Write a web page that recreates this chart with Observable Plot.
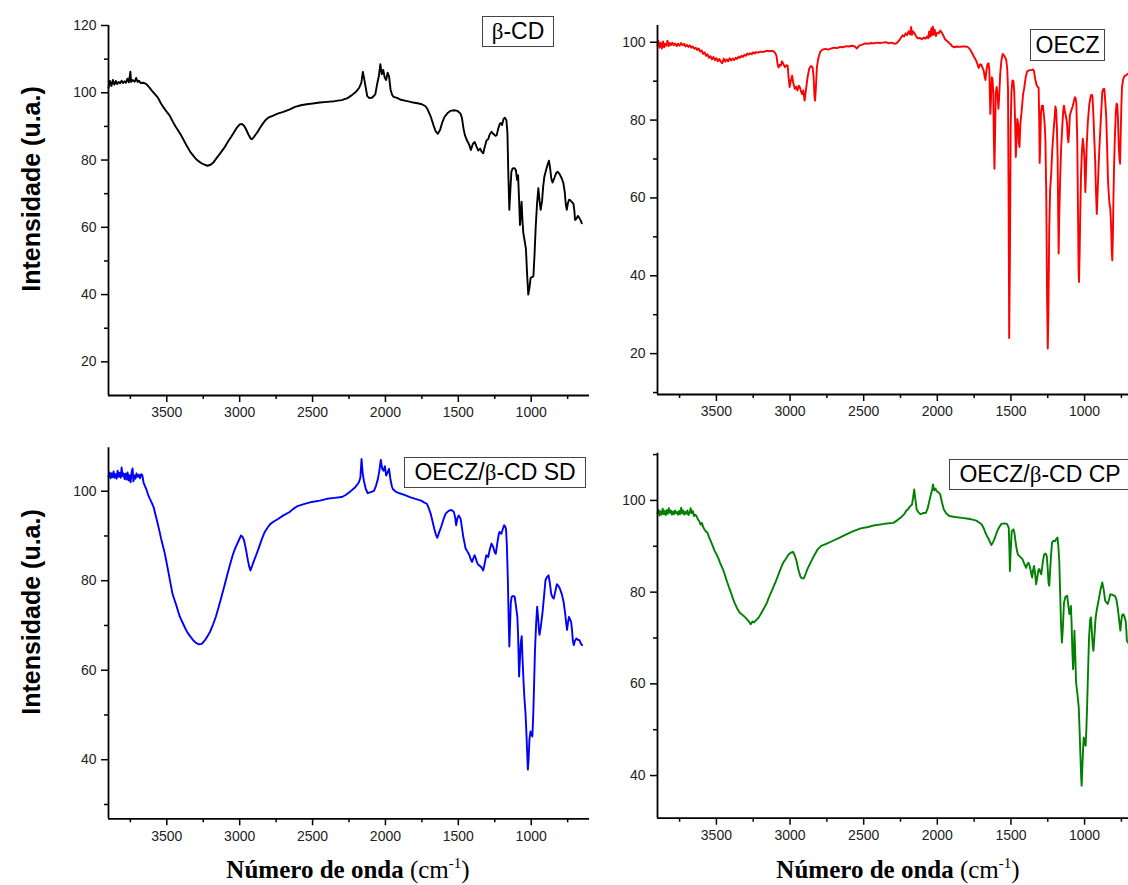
<!DOCTYPE html>
<html>
<head>
<meta charset="utf-8">
<script src="https://cdn.jsdelivr.net/npm/d3@7"></script>
<script src="https://cdn.jsdelivr.net/npm/@observablehq/plot@0.6"></script>
<style>
  html, body { margin: 0; padding: 0; background: #fff; overflow: hidden; }
  #page { position: relative; width: 1128px; height: 885px; overflow: hidden; }
  .panel { position: absolute; }
  .ytitle { position: absolute; font-family: "Liberation Sans", Arial, sans-serif; font-weight: bold; font-size: 25px; line-height: 25px; white-space: nowrap; transform: translate(-50%, -50%) rotate(-90deg); color: #000; }
  .xtitle { position: absolute; font-family: "Liberation Serif", "Times New Roman", serif; font-size: 25px; line-height: 25px; white-space: nowrap; transform: translateX(-50%); color: #000; }
  .xtitle b { font-weight: bold; }
  .xtitle sup { font-size: 15px; line-height: 0; vertical-align: 0; position: relative; top: -10px; }
  .tag { position: absolute; box-sizing: border-box; border: 1.2px solid #444; background: #fff; font-family: "Liberation Sans", Arial, sans-serif; font-size: 23px; line-height: 28px; text-align: center; white-space: nowrap; color: #000; }
  .tag .g { font-family: "Liberation Serif", "Times New Roman", serif; }
</style>
</head>
<body>
<div id="page"></div>
<script>
// ---------- data: [wavenumber (cm-1), intensity (u.a.)] ----------
const betaCD = [[3900,101.5],[3890,103.5],[3880,102],[3870,103.8],[3860,102.4],[3850,103.5],[3840,102.6],[3830,103.2],[3820,102.8],[3810,103.6],[3800,102.9],[3790,103.4],[3780,103.0],[3770,104.2],[3760,103.1],[3750,106.3],[3745,103.2],[3735,103.8],[3720,103.3],[3710,104.4],[3700,103.2],[3690,103.6],[3680,102.9],[3660,103.0],[3640,102.6],[3620,101.6],[3600,100.5],[3580,99.5],[3560,98.5],[3540,96.8],[3520,95.5],[3500,94.3],[3480,93.2],[3460,91.5],[3440,90.0],[3420,88.6],[3400,87.2],[3380,85.6],[3360,84.0],[3340,82.5],[3320,81.4],[3300,80.3],[3280,79.6],[3260,79.0],[3240,78.6],[3220,78.3],[3200,78.6],[3180,79.3],[3160,80.5],[3140,81.6],[3120,82.8],[3100,84.0],[3080,85.5],[3060,86.8],[3040,88.2],[3020,89.6],[3000,90.6],[2985,90.7],[2970,90.2],[2955,89.0],[2940,87.6],[2925,86.4],[2915,86.2],[2900,87.0],[2880,88.2],[2860,89.6],[2840,90.9],[2820,92.0],[2800,92.7],[2770,93.2],[2740,93.8],[2700,94.3],[2660,95.0],[2620,95.8],[2580,96.3],[2540,96.6],[2500,96.8],[2450,97.1],[2400,97.3],[2350,97.5],[2300,97.8],[2260,98.4],[2230,99.3],[2200,100.4],[2180,101.5],[2165,103],[2155,106.2],[2145,104],[2135,101.5],[2125,99],[2110,98.4],[2090,98.6],[2070,99.5],[2055,103],[2045,105],[2035,108.5],[2025,105.5],[2015,106.8],[2005,104.5],[1995,103.8],[1985,106],[1975,104.8],[1965,101],[1955,99.5],[1945,98.8],[1920,98.5],[1900,98.0],[1860,97.6],[1820,97.2],[1780,96.9],[1750,96.6],[1725,96.0],[1710,95.0],[1690,93.0],[1670,90.3],[1655,88.5],[1640,87.8],[1625,89.0],[1610,91.2],[1595,92.8],[1575,93.9],[1555,94.6],[1530,94.8],[1505,94.6],[1485,93.8],[1475,92.5],[1465,89.5],[1455,87.4],[1440,85.8],[1425,84.5],[1414,83.0],[1400,84.8],[1388,85.4],[1375,84.0],[1363,82.8],[1350,83.4],[1340,82.5],[1329,82.0],[1318,84.0],[1306,85.9],[1295,86.2],[1285,87.6],[1272,88.4],[1260,87.8],[1245,87.2],[1237,87.4],[1225,89.5],[1215,90.8],[1208,91.0],[1200,90.4],[1190,92.2],[1180,92.6],[1170,91.8],[1163,88],[1157,76],[1150,65.2],[1143,71],[1136,76.5],[1128,77.5],[1115,77.6],[1105,77.0],[1097,74.1],[1090,75.5],[1083,68],[1077,60.7],[1071,64],[1066,67.6],[1060,62],[1054,58.3],[1045,56],[1036,53.5],[1028,46],[1020,40],[1012,42],[1004,44.9],[995,45.2],[985,45.4],[977,52],[969,60.2],[960,67],[951,71.6],[943,68],[935,65.2],[925,68],[918,72],[910,75],[895,77.5],[885,79],[878,79.8],[870,77.5],[862,74.5],[854,73.3],[840,74.8],[828,76.2],[818,76.5],[805,75.8],[790,74.5],[779,73.1],[770,70.5],[763,67],[756,65.2],[748,67.2],[740,68.2],[733,68.1],[720,67.5],[710,67],[704,65],[699,62.2],[690,62.5],[680,63.4],[670,62.8],[660,62],[653,61.2]];

const oecz = [[3900,99.2],[3893,100.3],[3886,98.6],[3878,99.9],[3870,98.4],[3862,100.2],[3855,98.7],[3848,99.6],[3840,99.1],[3832,100.4],[3824,99.0],[3816,99.8],[3808,99.3],[3800,99.9],[3790,99.2],[3780,99.7],[3770,99.0],[3760,99.6],[3750,99.1],[3740,99.8],[3730,99.2],[3720,99.6],[3710,98.9],[3700,99.3],[3690,98.8],[3680,99.2],[3670,98.6],[3660,98.9],[3650,98.3],[3640,98.6],[3630,98.0],[3620,98.4],[3610,97.6],[3600,97.9],[3590,97.0],[3580,97.4],[3570,96.5],[3560,96.9],[3550,96.0],[3540,96.4],[3530,95.6],[3520,96.2],[3510,95.4],[3500,95.9],[3490,95.1],[3480,95.7],[3470,95.0],[3460,94.6],[3450,95.8],[3440,95.0],[3430,95.6],[3420,95.1],[3410,95.9],[3400,95.3],[3390,95.8],[3380,95.4],[3370,96.0],[3360,95.7],[3350,96.3],[3340,96.0],[3330,96.5],[3320,96.2],[3310,96.8],[3300,96.5],[3290,97.1],[3280,96.8],[3270,97.2],[3260,96.9],[3250,97.4],[3240,97.1],[3230,97.5],[3220,97.3],[3200,97.6],[3180,97.5],[3160,97.8],[3140,97.7],[3120,97.8],[3110,97.6],[3100,97.2],[3092,96.5],[3085,94.5],[3078,93.5],[3070,94.2],[3062,94.0],[3055,95.1],[3045,94.4],[3035,93.6],[3025,94.1],[3016,94.0],[3010,91],[3003,88.5],[2995,90],[2986,91.4],[2978,89.5],[2967,88.0],[2958,88.6],[2950,87.6],[2940,88.8],[2932,88.3],[2925,87.3],[2918,86.7],[2910,87.6],[2901,85.0],[2893,87.5],[2881,91.0],[2870,93.2],[2858,93.9],[2847,93.6],[2840,91],[2834,86],[2830,85.0],[2825,88],[2818,93.5],[2808,95.9],[2795,97.5],[2780,98.1],[2760,98.3],[2740,98.1],[2720,98.4],[2700,98.6],[2680,98.5],[2660,98.8],[2640,98.7],[2620,99.0],[2600,98.9],[2580,99.1],[2560,98.9],[2546,98.4],[2530,99.1],[2510,99.4],[2490,99.7],[2470,99.6],[2450,99.8],[2430,99.7],[2410,99.9],[2390,99.8],[2370,99.9],[2350,100.0],[2330,99.7],[2310,99.9],[2290,99.6],[2275,99.8],[2260,100.4],[2245,101.3],[2235,101.8],[2225,101.5],[2215,102.3],[2205,101.8],[2195,102.8],[2185,102.0],[2178,103.9],[2172,101.9],[2165,102.8],[2155,102.3],[2145,101.6],[2135,101.0],[2120,101.1],[2105,100.8],[2090,101.2],[2080,100.9],[2070,101.5],[2062,101.0],[2055,102.8],[2048,101.4],[2040,103.6],[2035,101.8],[2030,104.0],[2024,102.0],[2018,103.2],[2010,101.6],[2000,102.5],[1990,102.3],[1980,103.0],[1970,102.5],[1960,101.8],[1950,100.9],[1940,100.5],[1930,100.2],[1920,99.8],[1910,99.5],[1900,99.0],[1885,98.7],[1870,98.9],[1850,98.8],[1830,98.9],[1810,98.9],[1795,98.8],[1780,98.3],[1765,97.3],[1750,96.2],[1738,95.4],[1728,94.4],[1719,93.4],[1710,94.3],[1702,94.3],[1695,93.6],[1685,92.7],[1678,91.0],[1673,90.3],[1667,92.5],[1660,94.3],[1653,94.6],[1647,93.2],[1643,86],[1640,81.6],[1636,85],[1630,91.0],[1625,90.5],[1620,87],[1616,75],[1612,67.5],[1608,76],[1603,87],[1597,88.5],[1591,86.5],[1585,82.9],[1580,86],[1573,91.9],[1565,95.3],[1556,97.0],[1545,96.5],[1532,95.5],[1525,93],[1520,88],[1516,60],[1512,24],[1507,45],[1502,78],[1497,87],[1490,90.2],[1483,90.0],[1478,87.5],[1472,80],[1467,70.5],[1462,75],[1457,80.3],[1451,79],[1446,74],[1442,73.1],[1436,79],[1427,82.5],[1418,86.5],[1410,88.2],[1400,91],[1390,92.5],[1375,92.8],[1361,92.9],[1350,93.0],[1344,92.6],[1335,90.5],[1325,88.9],[1318,88.5],[1312,88.3],[1308,80],[1305,69],[1301,74],[1296,82],[1290,83.7],[1283,83.7],[1277,81.5],[1271,79.0],[1266,74.8],[1260,60],[1255,35],[1250,21.3],[1246,30],[1240,52],[1234,62],[1227,66],[1220,72],[1212,76.5],[1205,80],[1198,83.5],[1193,82.5],[1188,78],[1183,70],[1179,55],[1176,45.7],[1172,55],[1166,65],[1159,73],[1152,78],[1145,82.5],[1140,83.7],[1133,82],[1128,81.2],[1120,79.5],[1115,76],[1110,74.3],[1105,77],[1100,81.2],[1090,82.5],[1081,83.5],[1072,85],[1066,85.9],[1060,85.5],[1056,84.2],[1050,75],[1045,58],[1041,42],[1038,38.4],[1034,45],[1029,57],[1024,66.2],[1018,72],[1012,75.2],[1007,73.5],[1002,70.9],[998,66],[995,61.5],[991,66],[985,74],[978,79.5],[968,84],[958,86.3],[950,86.5],[946,85.9],[940,81],[935,76],[929,70.5],[923,62],[917,55.9],[911,62],[904,69],[897,74.8],[890,80],[880,87.2],[872,88],[866,88],[860,85],[853,80.8],[847,73],[841,64.5],[836,61],[831,58.5],[826,57.5],[820,53],[815,46],[812,44],[808,50],[804,60],[800,67.9],[794,76],[788,82],[783,84.2],[778,84],[773,80],[768,73.1],[763,70],[759,68.8],[755,76],[750,84],[746,88.5],[738,90.5],[727,91.4],[718,91.5],[710,91.8],[700,92],[680,91],[650,90]];

const oeczSD = [[3900,103.2],[3893,104.2],[3886,102.9],[3879,104.0],[3872,103.1],[3865,104.4],[3858,103.0],[3851,103.8],[3844,102.8],[3837,104.6],[3830,103.2],[3823,104.1],[3816,103.0],[3810,105.3],[3804,103.4],[3797,104.0],[3790,102.7],[3783,103.9],[3776,102.6],[3769,104.2],[3762,102.4],[3755,103.6],[3748,102.0],[3741,104.3],[3735,105.1],[3729,102.2],[3722,103.5],[3715,102.8],[3708,104.0],[3700,103.2],[3692,103.7],[3684,102.9],[3676,103.8],[3668,103.6],[3660,102.0],[3652,101.3],[3640,100.4],[3628,99.2],[3616,98.3],[3603,97.4],[3590,96.4],[3578,94.8],[3565,93.1],[3552,91.3],[3539,89.4],[3526,87.7],[3513,86.0],[3500,83.8],[3487,81.6],[3474,79.3],[3461,77.1],[3448,75.8],[3435,74.5],[3422,73.1],[3410,71.9],[3397,71.0],[3384,70.1],[3371,69.2],[3358,68.4],[3338,67.5],[3319,66.7],[3300,66.1],[3280,65.8],[3260,65.9],[3241,66.6],[3222,67.5],[3203,68.6],[3184,70.1],[3164,71.9],[3145,74.0],[3125,76.4],[3105,78.8],[3086,81.2],[3067,83.5],[3048,85.7],[3035,86.9],[3022,87.9],[3005,89.1],[2991,90.1],[2980,89.8],[2970,89.0],[2957,87.0],[2944,84.6],[2935,83.2],[2926,82.3],[2915,83.3],[2905,84.2],[2886,85.8],[2867,87.5],[2848,89.3],[2828,90.9],[2808,91.9],[2789,92.7],[2763,93.3],[2737,93.8],[2700,94.6],[2660,95.3],[2634,96.0],[2608,96.6],[2560,97.1],[2505,97.6],[2450,97.9],[2401,98.3],[2350,98.5],[2298,98.7],[2270,99.2],[2246,99.8],[2225,100.4],[2207,100.9],[2195,101.4],[2182,102.0],[2172,103],[2164,107.2],[2156,104],[2148,102.4],[2135,100.5],[2122,99.6],[2100,99.8],[2078,100.1],[2065,101.2],[2052,102.7],[2042,104.5],[2032,107.0],[2022,105],[2013,104.6],[2004,105.6],[1995,103.5],[1985,104.2],[1975,105.0],[1965,102.5],[1955,101.0],[1949,100.5],[1930,99.9],[1910,99.6],[1870,99.2],[1832,98.7],[1795,98.3],[1755,97.9],[1735,97.5],[1716,97.2],[1703,96.2],[1690,95.0],[1677,93.3],[1665,91.6],[1654,90.3],[1644,89.6],[1632,90.8],[1618,92.0],[1602,93.7],[1587,95.0],[1567,95.6],[1548,95.8],[1538,95.6],[1530,95.3],[1522,94.2],[1515,92.4],[1506,94.0],[1497,94.6],[1484,93.8],[1475,91.8],[1466,89.8],[1458,88.5],[1450,87.2],[1437,86.5],[1424,85.7],[1415,84.8],[1406,84.2],[1397,85.0],[1388,85.7],[1380,85.0],[1373,84.2],[1364,83.6],[1355,83.4],[1342,83.0],[1329,82.3],[1318,84.0],[1308,85.7],[1295,85.3],[1284,87.0],[1272,88.3],[1260,87.5],[1250,86.3],[1243,86.0],[1232,88.5],[1222,90.5],[1217,90.9],[1205,90.5],[1195,91.5],[1186,92.4],[1180,92.2],[1173,91.6],[1167,88],[1160,80.1],[1155,72],[1150,65.3],[1145,70],[1140,75],[1134,76.4],[1125,76.6],[1113,76.4],[1104,74.2],[1095,71.9],[1090,68],[1083,58.6],[1078,62],[1072,66],[1065,67.6],[1060,63],[1052,57.1],[1046,53.5],[1039,50.4],[1033,46],[1028,42],[1023,37.8],[1018,40],[1012,44.5],[1005,46.3],[999,45.8],[992,45.2],[986,50],[980,57],[974,64.5],[966,70.5],[959,74.2],[952,71.5],[946,68.5],[943,67.9],[935,69.5],[922,73],[912,76.5],[902,80.1],[892,80.8],[881,81.2],[872,79.5],[863,77.1],[854,76.3],[845,76.0],[835,77.5],[824,79.2],[814,78.9],[803,78.2],[790,77],[778,75.3],[768,73],[760,70.5],[754,69.0],[748,70.5],[741,71.9],[734,71.4],[726,70.8],[720,69],[714,66.5],[708,65.6],[700,66.6],[690,67.1],[680,66.8],[669,66.7],[660,66],[651,65.6]];

const oeczCP = [[3900,97.2],[3893,98.0],[3886,96.7],[3879,97.6],[3872,96.9],[3865,98.2],[3858,97.0],[3851,97.7],[3844,96.8],[3837,97.9],[3830,97.1],[3823,98.3],[3816,97.3],[3809,97.8],[3802,96.9],[3795,97.6],[3788,97.0],[3781,97.8],[3774,97.2],[3767,97.5],[3760,96.9],[3753,97.7],[3746,97.0],[3739,98.4],[3732,97.2],[3725,97.8],[3718,96.9],[3711,97.5],[3704,97.1],[3697,97.8],[3690,96.8],[3682,97.3],[3675,98.3],[3668,97.2],[3660,97.7],[3652,96.6],[3644,96.9],[3635,96.6],[3625,95.8],[3616,95.5],[3607,94.7],[3598,95.1],[3590,94.2],[3580,93.6],[3570,93.2],[3561,93.0],[3550,92.0],[3537,91.0],[3525,90.1],[3512,89.0],[3500,88.3],[3488,87.5],[3475,86.4],[3463,85.5],[3451,84.6],[3440,83.5],[3427,82.2],[3414,81.0],[3400,79.8],[3390,78.8],[3377,77.7],[3360,76.5],[3341,75.5],[3322,75.0],[3304,74.5],[3285,73.8],[3275,73.4],[3267,73.0],[3255,73.6],[3245,73.4],[3230,73.9],[3212,74.5],[3194,75.5],[3175,76.6],[3157,77.7],[3139,79.2],[3120,80.6],[3101,82.0],[3083,83.5],[3065,85.0],[3047,86.4],[3028,87.3],[3010,88.2],[2995,88.6],[2980,88.8],[2968,88.0],[2956,86.8],[2944,85.0],[2931,83.5],[2920,83.0],[2907,83.0],[2895,83.9],[2882,85.0],[2860,86.5],[2838,87.9],[2815,89.2],[2789,90.1],[2750,90.6],[2716,91.1],[2670,91.8],[2618,92.6],[2570,93.3],[2520,93.9],[2470,94.2],[2422,94.6],[2360,94.9],[2299,95.1],[2275,95.6],[2250,96.2],[2225,97.0],[2210,97.8],[2201,98.0],[2185,98.7],[2172,99.1],[2165,100.5],[2157,102.4],[2150,100.5],[2140,98.0],[2128,97.4],[2115,97.0],[2100,97.2],[2078,97.3],[2066,98.2],[2054,99.9],[2042,101.5],[2035,102.4],[2029,103.5],[2022,102.2],[2012,102.6],[2005,102.0],[1994,101.8],[1980,101.3],[1968,99.5],[1956,98.0],[1940,97.2],[1919,96.6],[1880,96.4],[1833,96.2],[1790,96.0],[1760,95.8],[1735,95.6],[1717,95.2],[1699,94.8],[1686,94.0],[1674,93.0],[1662,92.2],[1650,91.5],[1641,90.8],[1632,90.3],[1622,90.9],[1613,91.5],[1603,92.4],[1593,93.3],[1578,94.3],[1564,94.9],[1545,95.0],[1527,94.9],[1515,94.0],[1511,90],[1507,84.6],[1503,88],[1495,93.3],[1483,93.7],[1476,92.8],[1471,91.5],[1462,89.5],[1453,88.2],[1437,87.7],[1422,87.2],[1410,86.2],[1397,85.3],[1388,86.2],[1380,86.4],[1374,85.8],[1368,85.0],[1362,84.0],[1356,83.2],[1350,84.8],[1343,85.7],[1336,84.0],[1329,81.7],[1320,83.5],[1312,85.0],[1306,85.0],[1300,84.3],[1294,83.9],[1284,86.5],[1275,88.2],[1265,88.4],[1257,87.9],[1250,85],[1245,82],[1240,81.4],[1235,84],[1228,88],[1221,90.8],[1212,91.2],[1201,91.1],[1192,91.6],[1184,91.9],[1178,90],[1172,86.8],[1166,80],[1160,73],[1154,69.0],[1148,72],[1140,77.7],[1130,79.0],[1118,79.2],[1110,77],[1103,75.2],[1097,76],[1093,77.0],[1088,73],[1083,67],[1078,63.2],[1073,67],[1069,71.6],[1064,67],[1058,60.5],[1054,59.2],[1046,57],[1040,55],[1034,50],[1028,44],[1023,39.5],[1020,37.8],[1015,42],[1010,46],[1006,48.3],[1000,47.5],[993,46.5],[988,50],[983,55],[977,62.1],[970,70],[962,74],[957,74.5],[950,71],[944,68],[940,67.2],[933,70.5],[926,74.1],[918,76.0],[904,78.4],[892,80.5],[880,82.1],[870,80.5],[860,78.1],[852,77.8],[843,77.4],[833,78.5],[826,79.5],[815,79.5],[805,79.3],[794,79.2],[785,78.5],[778,77.2],[770,75.2],[764,73.5],[757,71.6],[752,73.5],[745,75.0],[737,75.2],[728,74.5],[721,73.7],[716,71.5],[713,69.4],[705,69],[690,68.5]];

// ---------- ticks ----------
const xMajor = [3500, 3000, 2500, 2000, 1500, 1000];
const xMinor = [3750, 3250, 2750, 2250, 1750, 1250, 750];
const xDomain = [3900, 600];
const yMajor1 = [20, 40, 60, 80, 100, 120];
const yMinor1 = [30, 50, 70, 90, 110];
const yMajor2 = [20, 40, 60, 80, 100];
const yMinor2 = [10, 30, 50, 70, 90];
const yMajor3 = [40, 60, 80, 100];
const yMinor3 = [30, 50, 70, 90];
const yMajor4 = [40, 60, 80, 100];
const yMinor4 = [50, 70, 90, 110];

const labels = ["β-CD", "OECZ", "OECZ/β-CD SD", "OECZ/β-CD CP"];
const colors = ["#000000", "#ff0000", "#0000ff", "#008000"];

const page = document.getElementById("page");

function panel(o) {
  const fmt = d => String(d);
  const blank = () => "";
  const chart = Plot.plot({
    width: o.w, height: o.h,
    marginTop: o.mt, marginBottom: o.mb, marginLeft: o.ml, marginRight: o.mr,
    x: {domain: xDomain},
    y: {domain: o.ydom},
    style: {fontFamily: '"Liberation Sans", Arial, sans-serif', fontSize: "14px", color: "#222", background: "transparent", overflow: "visible"},
    marks: [
      Plot.axisX({ticks: xMajor, tickSize: 7, tickPadding: 5, tickFormat: fmt, label: null, strokeWidth: 1.5, stroke: "#000", fill: "#222"}),
      Plot.axisX({ticks: xMinor, tickSize: 4, tickFormat: blank, label: null, strokeWidth: 1.5, stroke: "#000"}),
      Plot.axisY({ticks: o.yMajor, tickSize: 7, tickPadding: 5, tickFormat: fmt, label: null, strokeWidth: 1.5, stroke: "#000", fill: "#222"}),
      Plot.axisY({ticks: o.yMinor, tickSize: 4, tickFormat: blank, label: null, strokeWidth: 1.5, stroke: "#000"}),
      Plot.line(o.data, {x: d => d[0], y: d => d[1], stroke: o.color, strokeWidth: 1.9, strokeLinejoin: "round"}),
      Plot.ruleY([o.ydom[0]], {stroke: "#000", strokeWidth: 1.8}),
      Plot.ruleX([xDomain[0]], {stroke: "#000", strokeWidth: 1.8})
    ]
  });
  chart.classList.add("panel");
  chart.style.left = o.left + "px";
  chart.style.top = o.top + "px";
  page.appendChild(chart);
}

panel({data: betaCD, color: colors[0], ydom: [10, 120], yMajor: yMajor1, yMinor: yMinor1,
  left: 0, top: 0, w: 600, h: 420, mt: 25, mb: 25, ml: 108, mr: 11});
panel({data: oecz, color: colors[1], ydom: [9.5, 104.3], yMajor: yMajor2, yMinor: yMinor2,
  left: 560, top: 0, w: 600, h: 420, mt: 25, mb: 26, ml: 97, mr: 17});
panel({data: oeczSD, color: colors[2], ydom: [26.8, 109.7], yMajor: yMajor3, yMinor: yMinor3,
  left: 0, top: 430, w: 600, h: 420, mt: 17.3, mb: 31.7, ml: 108, mr: 11});
panel({data: oeczCP, color: colors[3], ydom: [30.7, 110.3], yMajor: yMajor4, yMinor: yMinor4,
  left: 560, top: 430, w: 600, h: 420, mt: 22.7, mb: 32.3, ml: 97, mr: 17});

function tag(text, left, top, w, h) {
  const d = document.createElement("div");
  d.className = "tag";
  d.style.left = left + "px"; d.style.top = top + "px";
  d.style.width = w + "px"; d.style.height = h + "px";
  d.style.lineHeight = (h - 2) + "px";
  d.innerHTML = text.replace("β", '<span class="g">β</span>');
  page.appendChild(d);
}
tag(labels[0], 482, 16, 72, 31);
tag(labels[1], 1030, 29, 75, 32);
tag(labels[2], 404, 457, 182, 31);
tag(labels[3], 949, 459, 182, 31);

function ytitle(cx, cy) {
  const d = document.createElement("div");
  d.className = "ytitle";
  d.style.left = cx + "px"; d.style.top = cy + "px";
  d.textContent = "Intensidade (u.a.)";
  page.appendChild(d);
}
ytitle(31, 189);
ytitle(31, 612);

function xtitle(cx) {
  const d = document.createElement("div");
  d.className = "xtitle";
  d.style.left = cx + "px"; d.style.top = "857px";
  d.innerHTML = '<b>Número de onda</b> (cm<sup>-1</sup>)';
  page.appendChild(d);
}
xtitle(348);
xtitle(898);
</script>
</body>
</html>
